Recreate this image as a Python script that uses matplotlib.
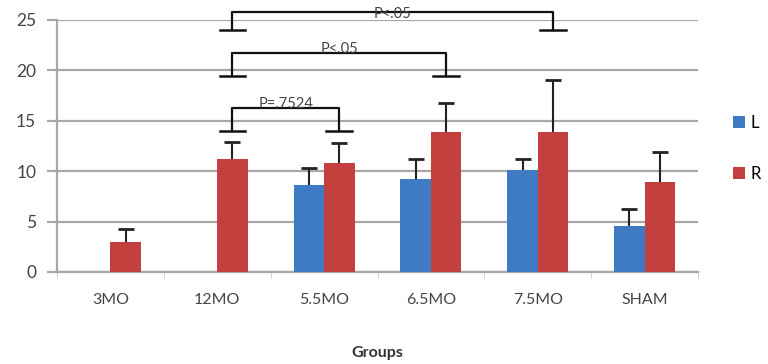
import matplotlib
matplotlib.use("Agg")
import matplotlib.pyplot as plt
import numpy as np

categories = ["3MO", "12MO", "5.5MO", "6.5MO", "7.5MO", "SHAM"]
L_vals = [0, 0, 8.6, 9.2, 10.1, 4.6]
L_err = [0, 0, 1.7, 2.0, 1.1, 1.65]
R_vals = [3.0, 11.2, 10.8, 13.9, 13.9, 8.9]
R_err = [1.3, 1.7, 2.0, 2.9, 5.1, 3.0]
brackets = [  # (left group, right group, bracket height, leg bottom, label, label y)
    (1, 2, 16.3, 14.0, "P=.7524", 16.7),
    (1, 3, 21.7, 19.4, "P<.05", 22.1),
    (1, 4, 25.8, 24.0, "P<.05", 25.6),
]

plt.rcParams['font.family'] = ['Lato', 'DejaVu Sans']
fig = plt.figure(figsize=(7.68, 3.64), dpi=100)
ax = fig.add_axes([57/768, 1-272/364, (698-57)/768, (272-20)/364])

x = np.arange(len(categories))
w = 0.285
blue = "#3F7BC4"
red = "#C4403E"
ax.bar(x - w/2, L_vals, w, color=blue, label="L", zorder=3)
ax.bar(x + w/2, R_vals, w, color=red, label="R", zorder=3)
Lm = np.array(L_vals); Rm = np.array(R_vals)
mask = Lm > 0
e1 = ax.errorbar((x - w/2)[mask], Lm[mask], yerr=[np.zeros(mask.sum()), np.array(L_err)[mask]],
                 fmt="none", ecolor="#222222", elinewidth=1.5, capsize=6, capthick=2, zorder=4)
e2 = ax.errorbar(x + w/2, Rm, yerr=[np.zeros(len(Rm)), np.array(R_err)],
                 fmt="none", ecolor="#222222", elinewidth=1.5, capsize=6, capthick=2, zorder=4)
for e in (e1, e2):
    e[1][0].set_visible(False)

for a, b, h, low, lab, ty in brackets:
    xa = a + w/2
    xb = b + w/2
    ax.plot([xa, xa, xb, xb], [low, h, h, low], color="#111111", lw=1.6, clip_on=False, zorder=5)
    for xx in (xa, xb):
        ax.plot([xx - 0.12, xx + 0.12], [low, low], color="#111111", lw=1.8, clip_on=False, zorder=5)
    ax.text((xa + xb)/2, ty, lab, ha="center", va="center", fontsize=10.5, color="#444444", zorder=6)

ax.set_xlim(-0.5, len(categories) - 0.5)
ax.set_ylim(0, 25)
ax.set_yticks([0, 5, 10, 15, 20, 25])
ax.yaxis.grid(True, color="#a8a8a8", lw=1.6, zorder=0)
ax.set_axisbelow(True)
for s in ["top", "right"]:
    ax.spines[s].set_visible(False)
ax.spines["left"].set_color("#a8a8a8")
ax.spines["left"].set_linewidth(1.6)
ax.spines["bottom"].set_color("#a8a8a8")
ax.spines["bottom"].set_linewidth(1.6)
ax.set_xticks(x)
ax.set_xticklabels(categories)
ax.set_xticks(np.arange(len(categories) + 1) - 0.5, minor=True)
ax.tick_params(axis="x", which="major", length=0, pad=15, labelsize=11.5, labelcolor="#444444")
ax.tick_params(axis="x", which="minor", length=4, color="#c8c8c8", direction="out")
ax.tick_params(axis="y", length=7, color="#a8a8a8", width=1.6, labelsize=12.5, labelcolor="#444444", pad=8)
ax.set_xlabel("Groups", fontsize=11.5, fontweight="bold", color="#333333", labelpad=28)

ax.legend(loc="center left", bbox_to_anchor=(1.037, 0.49), frameon=False, fontsize=12,
          handlelength=0.7, handleheight=0.7, labelspacing=2.1, handletextpad=0.35,
          borderpad=0.2)

fig.savefig("out.png", dpi=100)
